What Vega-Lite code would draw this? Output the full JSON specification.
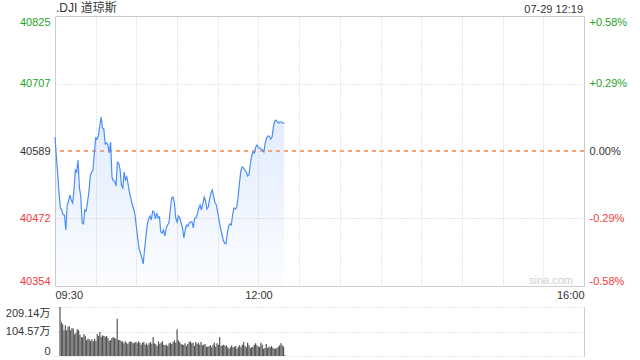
{
  "$schema": "https://vega.github.io/schema/vega-lite/v6.json",
  "padding": {"left": 5, "top": 1, "right": 5, "bottom": 5},
  "background": "#ffffff",
  "data": {
    "format": {"parse": {"t": "date:'%H:%M'"}},
    "values": [
      {"t":"09:30","p":40613.4,"v":209.14},{"t":"09:31","p":40580.8,"v":145.1},{"t":"09:32","p":40549.4,"v":135.2},{"t":"09:33","p":40516.2,"v":109.5},{"t":"09:34","p":40490.1,"v":130.9},
      {"t":"09:35","p":40486.6,"v":109.5},{"t":"09:36","p":40477.9,"v":123.8},{"t":"09:37","p":40477.9,"v":128.0},{"t":"09:38","p":40451.7,"v":109.5},{"t":"09:39","p":40495.3,"v":119.5},
      {"t":"09:40","p":40502.3,"v":116.7},{"t":"09:41","p":40512.8,"v":92.5},{"t":"09:42","p":40504.0,"v":99.6},{"t":"09:43","p":40498.8,"v":113.8},{"t":"09:44","p":40521.5,"v":109.5},
      {"t":"09:45","p":40556.4,"v":91.1},{"t":"09:46","p":40552.9,"v":79.7},{"t":"09:47","p":40573.8,"v":79.7},{"t":"09:48","p":40525.0,"v":93.9},{"t":"09:49","p":40511.0,"v":85.4},
      {"t":"09:50","p":40463.9,"v":66.9},{"t":"09:51","p":40462.2,"v":74.0},{"t":"09:52","p":40486.6,"v":71.1},{"t":"09:53","p":40484.8,"v":65.4},{"t":"09:54","p":40500.5,"v":71.1},
      {"t":"09:55","p":40518.0,"v":62.6},{"t":"09:56","p":40545.9,"v":74.0},{"t":"09:57","p":40552.9,"v":64.0},{"t":"09:58","p":40556.4,"v":93.9},{"t":"09:59","p":40586.0,"v":85.4},
      {"t":"10:00","p":40612.2,"v":102.4},{"t":"10:01","p":40610.4,"v":82.5},{"t":"10:02","p":40615.7,"v":88.2},{"t":"10:03","p":40633.1,"v":85.4},{"t":"10:04","p":40648.8,"v":82.5},
      {"t":"10:05","p":40629.6,"v":85.4},{"t":"10:06","p":40627.9,"v":76.8},{"t":"10:07","p":40601.7,"v":65.4},{"t":"10:08","p":40603.5,"v":68.3},{"t":"10:09","p":40600.0,"v":76.8},
      {"t":"10:10","p":40586.0,"v":81.1},{"t":"10:11","p":40605.2,"v":76.8},{"t":"10:12","p":40544.1,"v":74.0},{"t":"10:13","p":40537.2,"v":159.3},{"t":"10:14","p":40537.2,"v":68.3},
      {"t":"10:15","p":40528.5,"v":68.3},{"t":"10:16","p":40570.3,"v":62.6},{"t":"10:17","p":40568.6,"v":62.6},{"t":"10:18","p":40556.4,"v":54.1},{"t":"10:19","p":40530.2,"v":62.6},
      {"t":"10:20","p":40525.0,"v":56.9},{"t":"10:21","p":40552.9,"v":49.8},{"t":"10:22","p":40538.9,"v":59.8},{"t":"10:23","p":40544.1,"v":62.6},{"t":"10:24","p":40530.2,"v":58.3},
      {"t":"10:25","p":40516.2,"v":54.1},{"t":"10:26","p":40505.8,"v":56.9},{"t":"10:27","p":40495.3,"v":59.8},{"t":"10:28","p":40488.3,"v":54.1},{"t":"10:29","p":40477.9,"v":62.6},
      {"t":"10:30","p":40456.9,"v":56.9},{"t":"10:31","p":40437.7,"v":48.4},{"t":"10:32","p":40418.6,"v":56.9},{"t":"10:33","p":40411.6,"v":59.8},{"t":"10:34","p":40402.9,"v":48.4},
      {"t":"10:35","p":40392.4,"v":54.1},{"t":"10:36","p":40416.8,"v":45.5},{"t":"10:37","p":40439.5,"v":54.1},{"t":"10:38","p":40460.4,"v":59.8},{"t":"10:39","p":40470.9,"v":52.6},
      {"t":"10:40","p":40476.1,"v":81.1},{"t":"10:41","p":40469.1,"v":54.1},{"t":"10:42","p":40484.8,"v":49.8},{"t":"10:43","p":40483.1,"v":42.7},{"t":"10:44","p":40470.9,"v":62.6},
      {"t":"10:45","p":40481.4,"v":52.6},{"t":"10:46","p":40472.6,"v":56.9},{"t":"10:47","p":40474.4,"v":62.6},{"t":"10:48","p":40448.2,"v":48.4},{"t":"10:49","p":40446.5,"v":45.5},
      {"t":"10:50","p":40451.7,"v":48.4},{"t":"10:51","p":40441.2,"v":42.7},{"t":"10:52","p":40455.2,"v":54.1},{"t":"10:53","p":40460.4,"v":56.9},{"t":"10:54","p":40463.9,"v":51.2},
      {"t":"10:55","p":40486.6,"v":59.8},{"t":"10:56","p":40507.5,"v":66.9},{"t":"10:57","p":40509.3,"v":56.9},{"t":"10:58","p":40500.5,"v":113.8},{"t":"10:59","p":40472.6,"v":66.9},
      {"t":"11:00","p":40465.7,"v":59.8},{"t":"11:01","p":40476.1,"v":51.2},{"t":"11:02","p":40472.6,"v":48.4},{"t":"11:03","p":40463.9,"v":48.4},{"t":"11:04","p":40455.2,"v":54.1},
      {"t":"11:05","p":40437.7,"v":42.7},{"t":"11:06","p":40451.7,"v":51.2},{"t":"11:07","p":40460.4,"v":59.8},{"t":"11:08","p":40458.7,"v":62.6},{"t":"11:09","p":40463.9,"v":54.1},
      {"t":"11:10","p":40465.7,"v":56.9},{"t":"11:11","p":40465.7,"v":42.7},{"t":"11:12","p":40455.2,"v":59.8},{"t":"11:13","p":40472.6,"v":51.2},{"t":"11:14","p":40472.6,"v":56.9},
      {"t":"11:15","p":40479.6,"v":48.4},{"t":"11:16","p":40490.1,"v":59.8},{"t":"11:17","p":40495.3,"v":45.5},{"t":"11:18","p":40486.6,"v":48.4},{"t":"11:19","p":40497.1,"v":51.2},
      {"t":"11:20","p":40509.3,"v":39.8},{"t":"11:21","p":40502.3,"v":39.8},{"t":"11:22","p":40488.3,"v":42.7},{"t":"11:23","p":40491.8,"v":45.5},{"t":"11:24","p":40505.8,"v":37.0},
      {"t":"11:25","p":40516.2,"v":48.4},{"t":"11:26","p":40521.5,"v":56.9},{"t":"11:27","p":40509.3,"v":39.8},{"t":"11:28","p":40498.8,"v":54.1},{"t":"11:29","p":40495.3,"v":48.4},
      {"t":"11:30","p":40481.4,"v":81.1},{"t":"11:31","p":40469.1,"v":42.7},{"t":"11:32","p":40455.2,"v":45.5},{"t":"11:33","p":40444.7,"v":48.4},{"t":"11:34","p":40434.3,"v":42.7},
      {"t":"11:35","p":40429.0,"v":45.5},{"t":"11:36","p":40427.3,"v":37.0},{"t":"11:37","p":40444.7,"v":31.3},{"t":"11:38","p":40458.7,"v":37.0},{"t":"11:39","p":40462.2,"v":45.5},
      {"t":"11:40","p":40460.4,"v":37.0},{"t":"11:41","p":40479.6,"v":39.8},{"t":"11:42","p":40490.1,"v":42.7},{"t":"11:43","p":40488.3,"v":31.3},{"t":"11:44","p":40491.8,"v":39.8},
      {"t":"11:45","p":40509.3,"v":45.5},{"t":"11:46","p":40533.7,"v":37.0},{"t":"11:47","p":40554.6,"v":48.4},{"t":"11:48","p":40561.6,"v":59.8},{"t":"11:49","p":40559.9,"v":42.7},
      {"t":"11:50","p":40556.4,"v":37.0},{"t":"11:51","p":40552.9,"v":56.9},{"t":"11:52","p":40545.9,"v":45.5},{"t":"11:53","p":40547.6,"v":34.1},{"t":"11:54","p":40566.8,"v":37.0},
      {"t":"11:55","p":40580.8,"v":39.8},{"t":"11:56","p":40587.8,"v":48.4},{"t":"11:57","p":40586.0,"v":54.1},{"t":"11:58","p":40596.5,"v":45.5},{"t":"11:59","p":40600.0,"v":39.8},
      {"t":"12:00","p":40594.7,"v":39.8},{"t":"12:01","p":40594.7,"v":56.9},{"t":"12:02","p":40593.0,"v":48.4},{"t":"12:03","p":40591.3,"v":31.3},{"t":"12:04","p":40587.8,"v":34.1},
      {"t":"12:05","p":40603.5,"v":51.2},{"t":"12:06","p":40612.2,"v":34.1},{"t":"12:07","p":40615.7,"v":39.8},{"t":"12:08","p":40615.7,"v":37.0},{"t":"12:09","p":40610.4,"v":42.7},
      {"t":"12:10","p":40613.9,"v":34.1},{"t":"12:11","p":40631.4,"v":31.3},{"t":"12:12","p":40641.8,"v":31.3},{"t":"12:13","p":40643.6,"v":34.1},{"t":"12:14","p":40640.1,"v":39.8},
      {"t":"12:15","p":40638.3,"v":45.5},{"t":"12:16","p":40640.1,"v":54.1},{"t":"12:17","p":40640.1,"v":45.5},{"t":"12:18","p":40638.3,"v":39.8},{"t":"12:19","p":40638.3,"v":2.8}
    ]
  },
  "bounds": "flush",
  "spacing": 21,
  "vconcat": [
    {
      "width": 529,
      "height": 270,
      "resolve": {"axis": {"y": "independent"}},
      "layer": [
        {
          "mark": {"type": "area", "color": {"gradient": "linear", "x1": 0, "y1": 0, "x2": 0, "y2": 1, "stops": [{"offset": 0, "color": "rgba(75,141,248,0.17)"}, {"offset": 1, "color": "rgba(75,141,248,0.02)"}]}},
          "encoding": {
            "x": {"field": "t", "type": "temporal",
              "scale": {"domain": [{"year": 1900, "month": 1, "date": 1, "hours": 9, "minutes": 30}, {"year": 1900, "month": 1, "date": 1, "hours": 16, "minutes": 0}]},
              "axis": {
                "values": [
                  {"year": 1900, "month": 1, "date": 1, "hours": 9, "minutes": 30},
                  {"year": 1900, "month": 1, "date": 1, "hours": 10, "minutes": 0},
                  {"year": 1900, "month": 1, "date": 1, "hours": 10, "minutes": 30},
                  {"year": 1900, "month": 1, "date": 1, "hours": 11, "minutes": 0},
                  {"year": 1900, "month": 1, "date": 1, "hours": 11, "minutes": 30},
                  {"year": 1900, "month": 1, "date": 1, "hours": 12, "minutes": 0},
                  {"year": 1900, "month": 1, "date": 1, "hours": 12, "minutes": 30},
                  {"year": 1900, "month": 1, "date": 1, "hours": 13, "minutes": 0},
                  {"year": 1900, "month": 1, "date": 1, "hours": 13, "minutes": 30},
                  {"year": 1900, "month": 1, "date": 1, "hours": 14, "minutes": 0},
                  {"year": 1900, "month": 1, "date": 1, "hours": 14, "minutes": 30},
                  {"year": 1900, "month": 1, "date": 1, "hours": 15, "minutes": 0},
                  {"year": 1900, "month": 1, "date": 1, "hours": 15, "minutes": 30},
                  {"year": 1900, "month": 1, "date": 1, "hours": 16, "minutes": 0}
                ],
                "format": "%H:%M",
                "labelExpr": "datum.label == '09:30' || datum.label == '12:00' || datum.label == '16:00' ? datum.label : ''",
                "labelFlush": true,
                "labelOverlap": false,
                "labelPadding": 3,
                "grid": true
              }
            },
            "y": {"field": "p", "type": "quantitative",
              "scale": {"domain": [40354, 40825], "zero": false, "nice": false},
              "axis": {
                "values": [40354, 40472, 40589, 40707, 40825],
                "format": "d",
                "labelFlush": true,
                "labelPadding": 5,
                "labelColor": {"condition": [{"test": "datum.value > 40590", "value": "#1fa31f"}, {"test": "datum.value < 40588", "value": "#f23b3b"}], "value": "#333333"},
                "grid": true,
                "gridOpacity": {"condition": {"test": "datum.value == 40472 || datum.value == 40707", "value": 1}, "value": 0}
              }
            },
            "y2": {"datum": 40354}
          }
        },
        {
          "mark": {"type": "rule", "color": "#f4a577", "strokeDash": [4, 4], "strokeWidth": 1},
          "encoding": {
            "y": {"datum": 40589, "type": "quantitative",
              "scale": {"domain": [40354, 40825], "zero": false, "nice": false},
              "axis": {
                "orient": "right",
                "values": [40354, 40472, 40589, 40707, 40825],
                "labelExpr": "(datum.value > 40590 ? '+' : datum.value < 40588 ? '-' : '') + format(abs(datum.value / 40589 - 1) * 100, '.2f') + '%'",
                "labelFlush": true,
                "labelPadding": 5,
                "labelColor": {"condition": [{"test": "datum.value > 40590", "value": "#1fa31f"}, {"test": "datum.value < 40588", "value": "#f23b3b"}], "value": "#333333"},
                "grid": false
              }
            }
          }
        },
        {
          "mark": {"type": "line", "color": "#4b8df8", "strokeWidth": 1.2},
          "encoding": {
            "x": {"field": "t", "type": "temporal"},
            "y": {"field": "p", "type": "quantitative", "axis": null}
          }
        },
        {
          "data": {"format": {"parse": {"t": "date:'%H:%M'"}}, "values": [{"t": "09:30", "p": 40825, "s": ".DJI 道琼斯"}]},
          "mark": {"type": "text", "align": "left", "baseline": "bottom", "dy": -1, "dx": 1, "fontSize": 12, "color": "#333333"},
          "encoding": {
            "x": {"field": "t", "type": "temporal"},
            "y": {"field": "p", "type": "quantitative", "axis": null},
            "text": {"field": "s"}
          }
        },
        {
          "data": {"format": {"parse": {"t": "date:'%H:%M'"}}, "values": [{"t": "16:00", "p": 40825, "s": "07-29 12:19"}]},
          "mark": {"type": "text", "align": "right", "baseline": "bottom", "dy": -1, "dx": -1, "fontSize": 11, "color": "#333333"},
          "encoding": {
            "x": {"field": "t", "type": "temporal"},
            "y": {"field": "p", "type": "quantitative", "axis": null},
            "text": {"field": "s"}
          }
        },
        {
          "data": {"format": {"parse": {"t": "date:'%H:%M'"}}, "values": [{"t": "16:00", "p": 40354, "s": "sina.com"}]},
          "mark": {"type": "text", "align": "right", "baseline": "alphabetic", "dy": -2, "dx": -11, "fontSize": 11, "color": "#cfcfcf"},
          "encoding": {
            "x": {"field": "t", "type": "temporal"},
            "y": {"field": "p", "type": "quantitative", "axis": null},
            "text": {"field": "s"}
          }
        }
      ]
    },
    {
      "width": 529,
      "height": 49,
      "view": {"stroke": null},
      "resolve": {"axis": {"y": "independent"}},
      "layer": [
        {
          "mark": {"type": "bar", "color": "#555555", "size": 1.2},
          "encoding": {
            "x": {"field": "t", "type": "temporal", "axis": null,
              "scale": {"domain": [{"year": 1900, "month": 1, "date": 1, "hours": 9, "minutes": 30}, {"year": 1900, "month": 1, "date": 1, "hours": 16, "minutes": 0}]}},
            "y": {"field": "v", "type": "quantitative",
              "scale": {"domain": [0, 209.14], "nice": false},
              "axis": {
                "values": [0, 104.57, 209.14],
                "labelExpr": "datum.value == 0 ? '0' : format(datum.value, '.2f') + '万'",
                "labelFlush": true,
                "labelPadding": 5,
                "grid": true
              }
            }
          }
        },
        {
          "mark": {"type": "rule", "opacity": 0},
          "encoding": {
            "y": {"datum": 0, "type": "quantitative",
              "scale": {"domain": [0, 209.14], "nice": false},
              "axis": {"orient": "right", "labels": false, "grid": false, "domain": true, "domainColor": "#cccccc"}
            }
          }
        }
      ]
    }
  ],
  "config": {
    "font": "Liberation Sans, Noto Sans CJK SC, sans-serif",
    "view": {"stroke": "#cccccc"},
    "axis": {
      "labelFont": "Liberation Sans, Noto Sans CJK SC, sans-serif",
      "labelFontSize": 11,
      "labelColor": "#333333",
      "ticks": false,
      "domain": false,
      "title": null,
      "gridColor": "#cccccc",
      "gridDash": [1, 2]
    },
    "text": {"font": "Liberation Sans, Noto Sans CJK SC, sans-serif"}
  }
}
